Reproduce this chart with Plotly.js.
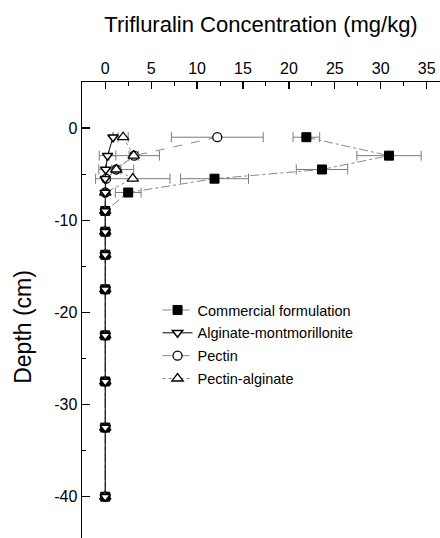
<!DOCTYPE html>
<html>
<head>
<meta charset="utf-8">
<script src="https://cdn.plot.ly/plotly-3.0.1.min.js"></script>
<style>html,body{margin:0;padding:0;background:#fff;}#chart{width:440px;height:538px;}</style>
</head>
<body>
<div id="chart"></div>
<script>
// Depth (cm) of each soil layer midpoint
var depths = [-1, -3, -4.5, -5.5, -7, -9, -11.25, -13.75, -17.5, -22.5, -27.5, -32.5, -40];

// Trifluralin concentration (mg/kg) per formulation
var commercial    = [21.9, 30.9, 23.6, 11.9, 2.5, 0, 0, 0, 0, 0, 0, 0, 0];
var commercialErr = [1.45, 3.5, 2.8, 3.7, 1.4, 0, 0, 0, 0, 0, 0, 0, 0];

var alginateMont    = [0.85, 0.25, 0.05, 0, 0, 0, 0, 0, 0, 0, 0, 0, 0];
var alginateMontErr = [0, 0.9, 0, 0, 0, 0, 0, 0, 0, 0, 0, 0, 0];

var pectin    = [12.2, 3.15, 1.2, 0.1, 0, 0, 0, 0, 0, 0, 0, 0, 0];
var pectinErr = [5.0, 2.75, 1.9, 0, 0, 0, 0, 0, 0, 0, 0, 0, 0];

var pectinAlg    = [1.95, 3.1, 1.2, 3.0, 0, 0, 0, 0, 0, 0, 0, 0, 0];
var pectinAlgErr = [0.55, 0.5, 0.5, 4.05, 0, 0, 0, 0, 0, 0, 0, 0, 0];

var seriesNames = ["Commercial formulation", "Alginate-montmorillonite", "Pectin", "Pectin-alginate"];

// Tick labels
var xTickVals = [0, 5, 10, 15, 20, 25, 30, 35];
var xTickText = ["0", "5", "10", "15", "20", "25", "30", "35"];
var yTickVals = [0, -10, -20, -30, -40];
var yTickText = ["0", "-10", "-20", "-30", "-40"];

var xTitle = "Trifluralin Concentration (mg/kg)";
var yTitle = "Depth (cm)";

var FONT = "Liberation Sans, Arial, sans-serif";
var errStyle = function (arr) {
  return {type: "data", array: arr, visible: true, color: "#7a7a7a", thickness: 1, width: 5};
};

var traces = [
  {
    name: seriesNames[2], x: pectin, y: depths, type: "scatter", mode: "lines+markers",
    legendrank: 3, legendgroup: "c",
    line: {color: "#888", width: 1, dash: "dash"},
    marker: {symbol: "circle", size: 9, color: "#fff", line: {color: "#000", width: 1.3}},
    error_x: errStyle(pectinErr)
  },
  {
    name: seriesNames[3], x: pectinAlg, y: depths, type: "scatter", mode: "lines+markers",
    legendrank: 4, legendgroup: "d",
    line: {color: "#888", width: 1, dash: "dot"},
    marker: {symbol: "triangle-up", size: 10, color: "#fff", line: {color: "#000", width: 1.3}},
    error_x: errStyle(pectinAlgErr)
  },
  {
    name: seriesNames[0], x: commercial, y: depths, type: "scatter", mode: "lines+markers",
    legendrank: 1, legendgroup: "a",
    line: {color: "#888", width: 1, dash: "dashdot"},
    marker: {symbol: "square", size: 9, color: "#000", line: {color: "#000", width: 1}},
    error_x: errStyle(commercialErr)
  },
  {
    name: seriesNames[1], x: alginateMont, y: depths, type: "scatter", mode: "lines+markers",
    legendrank: 2, legendgroup: "b",
    line: {color: "#000", width: 1, dash: "solid"},
    marker: {symbol: "triangle-down", size: 9, color: "#fff", line: {color: "#000", width: 1.5}},
    error_x: errStyle(alginateMontErr)
  }
];

var layout = {
  width: 440, height: 538,
  margin: {l: 82, r: 0, t: 82, b: 0, pad: 0},
  paper_bgcolor: "#fff", plot_bgcolor: "#fff",
  font: {family: FONT, color: "#000", size: 16},
  showlegend: true,
  legend: {
    x: 0.211, y: 0.535, xanchor: "left", yanchor: "top",
    bgcolor: "rgba(0,0,0,0)", borderwidth: 0,
    font: {family: FONT, size: 14.5, color: "#000"},
    traceorder: "grouped", tracegroupgap: 1
  },
  xaxis: {
    side: "top", range: [-2.53, 36.45],
    tickmode: "array", tickvals: xTickVals, ticktext: xTickText,
    ticks: "inside", ticklen: 7, tickwidth: 1.2, tickcolor: "#000",
    minor: {dtick: 2.5, tick0: 0, ticks: "inside", ticklen: 4, tickwidth: 1, tickcolor: "#000"},
    showline: true, linewidth: 1.5, linecolor: "#000",
    showgrid: false, zeroline: false, automargin: false,
    tickfont: {family: FONT, size: 16},
    title: {text: xTitle, font: {family: FONT, size: 22}, standoff: 21}
  },
  yaxis: {
    range: [-44.48, 4.99],
    tickmode: "array", tickvals: yTickVals, ticktext: yTickText,
    ticks: "inside", ticklen: 8, tickwidth: 1.2, tickcolor: "#000",
    minor: {dtick: 5, tick0: 0, ticks: "inside", ticklen: 4, tickwidth: 1, tickcolor: "#000"},
    showline: true, linewidth: 1.5, linecolor: "#000",
    showgrid: false, zeroline: false, automargin: false,
    tickfont: {family: FONT, size: 16}
  },
  annotations: [{
    text: yTitle, textangle: -90, showarrow: false,
    xref: "paper", yref: "paper", x: -0.165, y: 0.463,
    xanchor: "center", yanchor: "middle",
    font: {family: FONT, size: 23, color: "#000"}
  }]
};

Plotly.newPlot("chart", traces, layout, {staticPlot: true, displayModeBar: false});
</script>
</body>
</html>
